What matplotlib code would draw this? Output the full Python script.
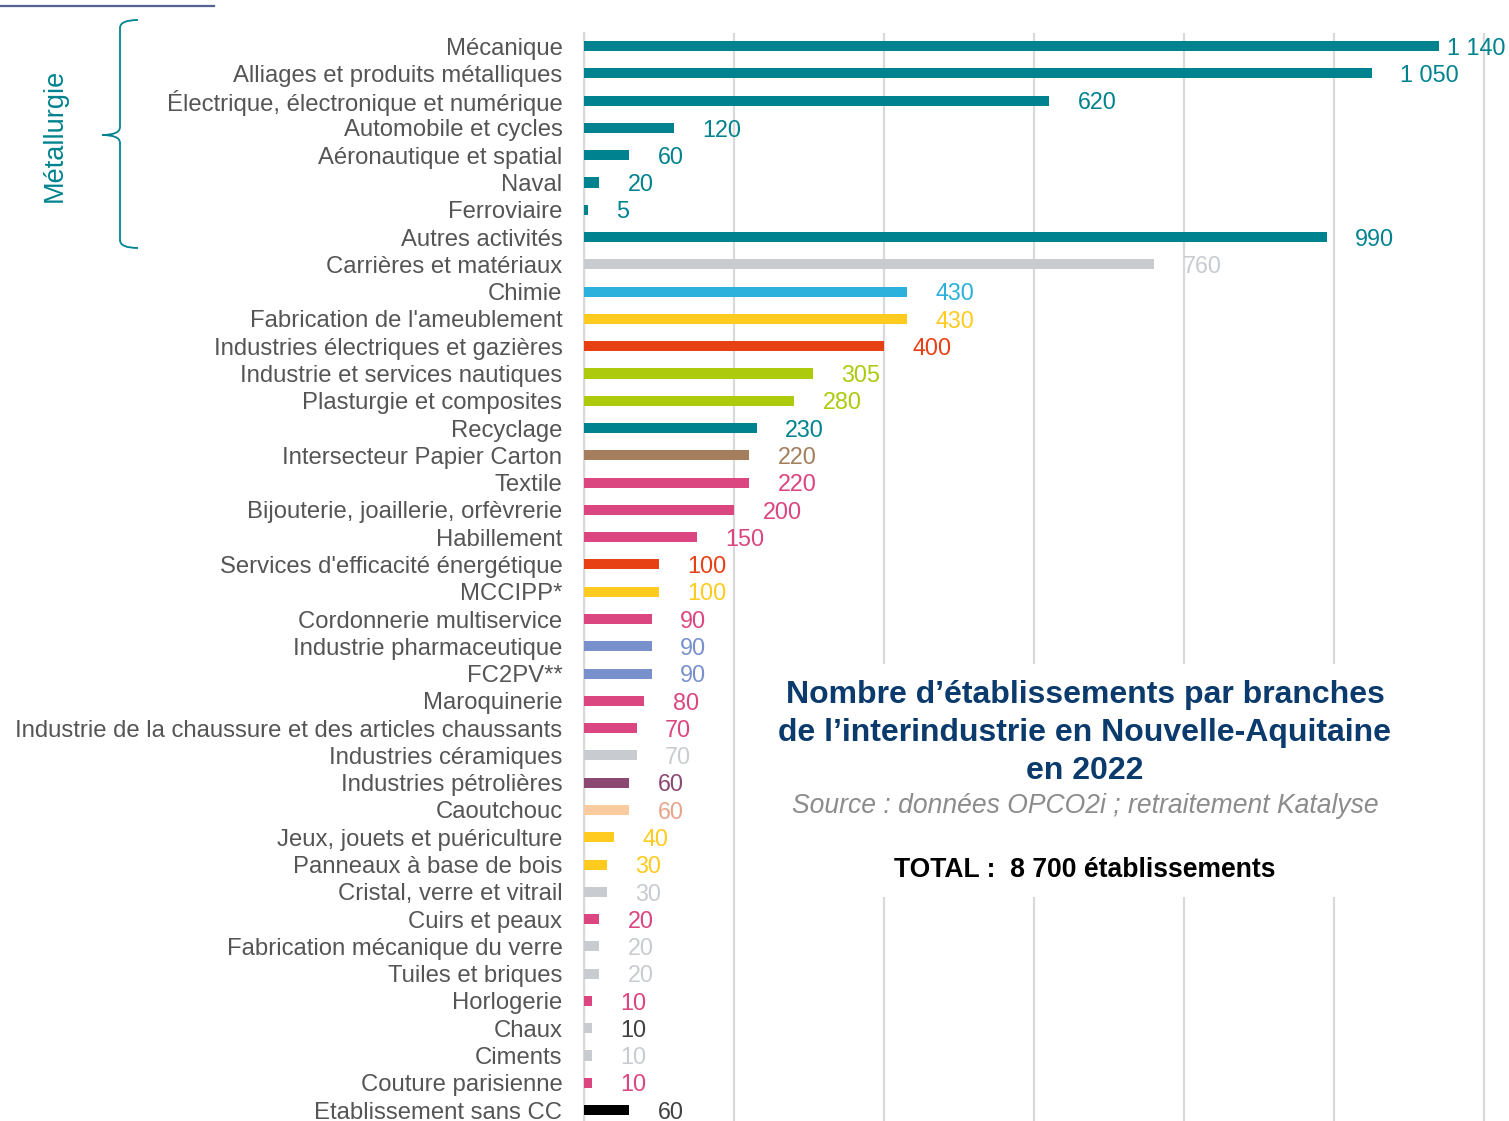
import matplotlib
matplotlib.use("Agg")
import matplotlib.pyplot as plt
from matplotlib.path import Path
from matplotlib.patches import PathPatch, Rectangle
from matplotlib.lines import Line2D

plt.rcParams['font.family'] = ['Liberation Sans', 'DejaVu Sans']

# ---- data ----
categories = ["Mécanique", "Alliages et produits métalliques",
              "Électrique, électronique et numérique", "Automobile et cycles",
              "Aéronautique et spatial", "Naval", "Ferroviaire", "Autres activités",
              "Carrières et matériaux", "Chimie", "Fabrication de l'ameublement",
              "Industries électriques et gazières", "Industrie et services nautiques",
              "Plasturgie et composites", "Recyclage", "Intersecteur Papier Carton",
              "Textile", "Bijouterie, joaillerie, orfèvrerie", "Habillement",
              "Services d'efficacité énergétique", "MCCIPP*", "Cordonnerie multiservice",
              "Industrie pharmaceutique", "FC2PV**", "Maroquinerie",
              "Industrie de la chaussure et des articles chaussants",
              "Industries céramiques", "Industries pétrolières", "Caoutchouc",
              "Jeux, jouets et puériculture", "Panneaux à base de bois",
              "Cristal, verre et vitrail", "Cuirs et peaux",
              "Fabrication mécanique du verre", "Tuiles et briques", "Horlogerie",
              "Chaux", "Ciments", "Couture parisienne", "Etablissement sans CC"]
values = [1140, 1050, 620, 120, 60, 20, 5, 990, 760, 430, 430, 400, 305, 280,
          230, 220, 220, 200, 150, 100, 100, 90, 90, 90, 80, 70, 70, 60, 60, 40,
          30, 30, 20, 20, 20, 10, 10, 10, 10, 60]

TEAL = '#00838F'
GREY = '#C8CCD1'
CYAN = '#2BB1DB'
YELLOW = '#FFCB1F'
RED = '#E84015'
LIME = '#ADCA0D'
BROWN = '#A47F5D'
PINK = '#DB4580'
BLUE = '#7891CC'
PURPLE = '#8B4972'
PEACH = '#FBCBA0'
DARK = '#404040'

bar_colors = [TEAL] * 8 + [GREY, CYAN, YELLOW, RED, LIME, LIME, TEAL, BROWN,
              PINK, PINK, PINK, RED, YELLOW, PINK, BLUE, BLUE, PINK, PINK, GREY,
              PURPLE, PEACH, YELLOW, YELLOW, GREY, PINK, GREY, GREY, PINK, GREY,
              GREY, PINK, 'black']
label_colors = list(bar_colors)
label_colors[28] = '#E9A48C'   # Caoutchouc
label_colors[36] = DARK        # Chaux
label_colors[39] = DARK        # Etablissement sans CC

W, H = 1509, 1121
fig = plt.figure(figsize=(W / 100, H / 100), dpi=100)

# axes placed in pixel terms
left, right, top, bottom = 584, 1488, 33, 1121
ax = fig.add_axes([left / W, 1 - bottom / H, (right - left) / W, (bottom - top) / H])

ypos = list(range(len(categories)))
ax.barh(ypos, values, height=0.37, color=bar_colors, zorder=3)
ax.set_xlim(0, 1205)
ax.set_ylim(39.4, -0.48)

ax.set_xticks(range(0, 1201, 200))
ax.grid(axis='x', color='#D9D9D9', linewidth=1.6, zorder=0)
ax.tick_params(axis='x', length=0, labelbottom=False)
ax.set_yticks(ypos)
ax.set_yticklabels(categories, fontsize=17.2, color='#555555')
ax.tick_params(axis='y', length=0, pad=15.5)
for s in ['top', 'right', 'bottom']:
    ax.spines[s].set_visible(False)
ax.spines['left'].set_color('#D9D9D9')
ax.spines['left'].set_linewidth(1.6)

for i, v in enumerate(values):
    txt = f"{v:,}".replace(",", " ")
    ax.text(min(v + 38, 1150), i + 0.08, txt, va='center', ha='left', fontsize=16.8,
            color=label_colors[i], zorder=5)


def px(x, y):
    return (x / W, 1 - y / H)


# white box hiding the gridlines behind the title
fig.patches.append(Rectangle(px(765, 897), 650 / W, 233 / H, transform=fig.transFigure,
                             facecolor='white', edgecolor='none', zorder=1))

fig.text(*px(1085, 733), "Nombre d’établissements par branches\n"
         "de l’interindustrie en Nouvelle-Aquitaine\nen 2022",
         ha='center', va='center', fontsize=23, fontweight='bold', color='#0B3A6D',
         linespacing=1.33, zorder=4)
fig.text(*px(1085, 806), "Source : données OPCO2i ; retraitement Katalyse",
         ha='center', va='center', fontsize=19.1, style='italic', color='#8C8C8C', zorder=4)
fig.text(*px(1085, 870), "TOTAL :  8 700 établissements", ha='center', va='center',
         fontsize=19.1, fontweight='bold', color='black', zorder=4)

# Métallurgie brace
fig.text(*px(55, 135), "Métallurgie", rotation=90, ha='center', va='center',
         fontsize=19.5, color=TEAL)
brace_pts = [(138, 20), (120, 20), (120, 28), (120, 127), (120, 135), (102, 135),
             (120, 135), (120, 143), (120, 240), (120, 248), (138, 248)]
codes = [Path.MOVETO, Path.CURVE3, Path.CURVE3, Path.LINETO, Path.CURVE3, Path.CURVE3,
         Path.CURVE3, Path.CURVE3, Path.LINETO, Path.CURVE3, Path.CURVE3]
fig.patches.append(PathPatch(Path([px(x, y) for x, y in brace_pts], codes),
                             transform=fig.transFigure, facecolor='none',
                             edgecolor=TEAL, linewidth=1.3))

# thin line at top left
fig.lines.append(Line2D([0, 214 / W], [1 - 5.5 / H] * 2, transform=fig.transFigure,
                        color='#55648F', linewidth=1.6))

fig.savefig('out.png', dpi=100)
